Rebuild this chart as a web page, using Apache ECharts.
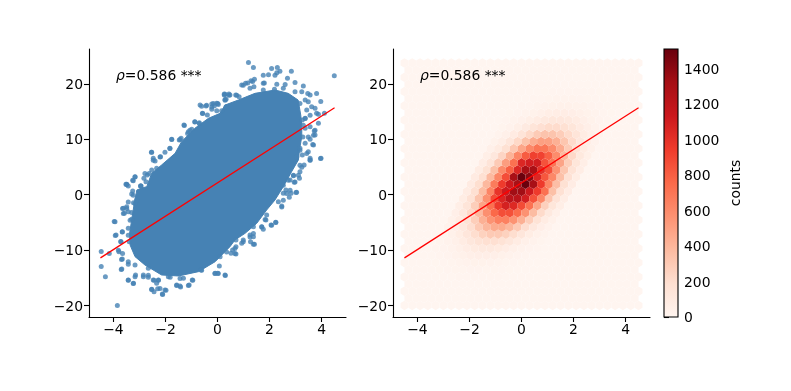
<!DOCTYPE html>
<html><head><meta charset="utf-8">
<style>html,body{margin:0;padding:0;background:#fff}#c{width:791px;height:391px}</style>
<script src="https://cdn.jsdelivr.net/npm/echarts@6/dist/echarts.min.js"></script>
</head><body><div id="c"></div>
<script>
const xTicks=[-4,-2,0,2,4];
const yTicks=[-20,-10,0,10,20];
const cbTicks=[0,200,400,600,800,1000,1200,1400];
const annotation='{r|ρ}=0.586 ***';
const cbLabel='counts';
const fitLine=[[-4.5,-11.4],[4.5,15.7]];
// solid core of the scatter cloud
const cloudOutline=[[-3.1,.86],[-2.9,1.2],[-2.72,1.46],[-2.53,3.87],[-2.15,5.37],[-1.63,7.48],[-1.38,9.59],[-.87,12],[-.35,13.8],[.1,14.7],[.29,16.2],[.8,17.1],[1.44,18.31],[2.21,18.91],[2.72,18.31],[3.1,17.1],[3.2,14.4],[3.24,12.59],[3.24,10.48],[3.15,8.07],[3.11,6.28],[2.85,4.17],[2.53,1.46],[2.21,-.95],[1.89,-2.76],[1.51,-5.16],[1.06,-6.97],[.67,-8.17],[.48,-9.38],[.29,-10.28],[-.09,-12.09],[-.73,-13.89],[-1.5,-14.67],[-2.15,-14.49],[-2.79,-12.69],[-3.17,-11.18],[-3.36,-9.08],[-3.38,-6.97],[-3.3,-4.56],[-3.2,-1.55]];
const scatterUpper=[[1.19,23.86],[1.38,22.96],[2.08,22.78],[2.3,22.96],[2.4,22.29],[2.28,22.05],[2.84,22.29],[1.76,21.57],[1.96,21.69],[2.21,21.57],[4.49,21.51],[2.69,21.03],[1.35,20.43],[1.16,20.19],[.99,19.77],[1.8,20.19],[2.28,19.95],[2.98,20.25],[2.6,19.89],[3.81,18.27],[3.47,18.27],[3.97,16.82],[.29,18.14],[.44,17.96],[.29,17.06],[.74,17.96],[-.42,16.16],[-.61,15.98],[-.16,16.46],[.03,16.28],[-.22,15.86],[-.57,14.65],[-.87,13.15],[-.7,12.85],[-1.275,12.49],[-1.06,11.64],[-1.15,11.04],[-1.76,9.96],[-1.44,9.96],[-2.53,7.67],[-1.83,8.33],[-2.21,6.83],[-2.47,6.23],[-2.79,3.82],[-2.63,3.82],[-3.17,3.22],[-3.26,2.62],[-3.49,1.9],[-2.94,1.6],[3.96,6.53],[3.66,9.06],[3.75,11.65],[3.56,14.35],[3.88,14.53],[3.37,13.75],[3.49,10.44],[3.17,8.03],[3.43,7.43],[3.56,6.23],[3.17,5.33],[2.92,3.52],[3.11,3.52],[2.72,2.62],[2.53,1.72],[3.28,10.44],[3.69,10.74],[3.3,12.55]];
const scatterLower=[[-3.49,1.83],[-2.95,1.59],[-3.26,.69],[-3.24,-.09],[-3.43,-1.29],[-3.17,-1.6],[-3.65,-2.5],[-3.49,-2.5],[-3.62,-3.4],[-3.3,-3.22],[-3.97,-4.84],[-3.36,-4.6],[-3.66,-6.71],[-3.93,-7.37],[-3.72,-8.45],[-3.43,-7.31],[-3.39,-8.51],[-4.47,-10.26],[-4.16,-10.62],[-3.81,-10.02],[-3.65,-10.62],[-3.69,-11.7],[-3.43,-12.55],[-4.47,-12.97],[-3.7,-13.51],[-4.31,-14.83],[-3.43,-15.43],[-3.24,-16.04],[-3.17,-14.83],[-2.85,-14.83],[-2.66,-14.53],[-3.85,-20.01],[-2.44,-15.43],[-2.275,-15.43],[-2.53,-17.12],[-2.44,-17.54],[-2.21,-16.94],[-1.98,-17.24],[-2.11,-18.02],[-1.57,-16.4],[-1.42,-16.64],[-1.12,-16.4],[-.95,-15.43],[-.1,-14.23],[.03,-14.23],[.3,-14.59],[-.61,-13.63],[-1.44,-15.13],[-1.89,-14.83],[1.38,-8.94],[1.25,-7.61],[.99,-8.51],[.67,-9.72],[.67,-10.62],[.35,-10.32],[.1,-11.22],[1.7,-5.81],[2.08,-5.51],[2.24,-5.02],[1.83,-4.48],[2.47,-2.2],[3.02,.39],[2.66,.21],[2.79,.81],[2.98,2.32],[2.53,-.99],[1.38,-7.01]];
const edgeUpperLeft=[[-.67,16.21],[-.44,16.03],[-.22,16.39],[-.03,16.51],[-.12,16.09],[-.58,14.71],[-.39,14.4],[-.22,15.43],[-.03,15.19],[.16,15.19],[.33,15.91],[.26,18.02],[.48,18.02],[.33,17.23],[-1.29,12.6],[-.87,13.2],[-.7,13.02],[-1.12,11.39],[-.99,11.82],[-1.76,10.01],[-1.47,9.89],[-1.4,10.19],[-1.83,8.38],[-2.02,7.66],[-2.54,7.66],[-2.47,6.58],[-2.19,6.88],[-2.4,6.1],[-2.34,4.77],[-2.53,4.47],[-2.7,3.57],[-2.83,2.97],[-3.17,3.27],[-3.24,2.54],[-3.52,1.88],[-3.43,1.58],[-2.96,1.58],[-2.75,2.36]];
const edgeUpperRight=[[1.76,20.12],[3.3,19.63],[.93,19.81],[1.08,20.12],[1.29,20.6],[1.42,20.84],[1.4,19.51],[1.25,19.21],[.44,18.19],[.26,18.19],[.29,17.22],[.7,18.01],[.83,17.71],[.01,16.5],[3.56,18.01],[3.49,16.8],[3.62,15.9],[3.75,15.6],[3.81,14.7],[4.11,14.7],[3.37,13.8],[3.88,12.89],[3.56,12.29],[3.37,11.99],[3.72,11.51],[3.75,10.78],[3.56,10],[3.37,9.28],[3.69,8.98],[3.17,8.38],[3.49,7.77],[3.26,7.17],[3.05,6.87],[3.56,6.57],[3.98,6.57],[1.76,18.91],[2.19,19.03],[2.53,19.21],[3.24,18.61],[2.98,18.61],[3.37,17.1],[3.17,16.5],[3.43,15.3],[3.26,13.5]];
const edgeLowerRight=[[3.56,6.28],[3.33,5.37],[3.24,4.95],[3.17,4.17],[2.92,3.45],[3.15,2.96],[2.95,2.24],[2.79,2.66],[3.04,.44],[2.63,.86],[2.83,.25],[2.76,-.47],[2.53,.25],[2.47,-2.03],[2.34,-1.25],[2.24,-4.98],[2.06,-5.46],[1.86,-4.56],[1.7,-5.77],[1.76,-6.25],[1.89,-3.66],[1.38,-5.77],[1.25,-7.27],[1.38,-7.57],[1.27,-8.48],[1.42,-8.96],[.99,-8.17],[.93,-8.78],[.71,-8.17],[.71,-9.38],[.58,-9.98],[.71,-10.7],[.52,-10.58]];
const edgeLowerLeft=[[-3.3,.14],[-3.11,-.95],[-3.23,-1.43],[-3.49,-2.15],[-3.62,-2.45],[-3.43,-3.06],[-3.58,-3.36],[-3.3,-4.44],[-3.43,-6.07],[-3.66,-6.67],[-3.94,-4.86],[-3.9,-7.27],[-3.71,-8.47],[-3.79,-10.28],[-3.66,-11.61],[-3.68,-13.41],[-3.43,-12.09],[-3.43,-15.4],[-3.15,-14.49],[-3.23,-16],[-2.85,-14.49],[-2.66,-14.92],[-2.47,-15.4],[-2.27,-15.4],[-2.34,-16],[-2.53,-17.08],[-2.3,-16.96],[-2.02,-17.2],[-2.12,-17.93],[-1.57,-16.3],[-1.44,-16.48],[-1.09,-16.3],[-.97,-15.4],[-.09,-14.2],[.01,-14.2],[.29,-14.5],[.07,-12.87],[-.63,-13.59],[-1.31,-15.1],[-1.82,-14.92],[-2.66,-13.29],[-3.17,-12.69]];
// hexbin counts, by lattice row: row number, x of first non-empty cell, counts
const hexRowIndex=[4,5,6,7,8,9,10,11,12,13,14,15,16,17,18,19,20,21,22,23,24,25,26,27,28,29,30];
const hexRowStart=[-3.3,-3.45,-3.6,-3.45,-3.3,-3.15,-3,-2.85,-2.7,-2.55,-2.4,-2.25,-2.1,-1.95,-1.8,-1.65,-1.5,-1.35,-1.2,-1.05,-.9,-.75,-.6,-.45,-.3,-.15,.3];
const hexRowCounts=[
[1,2,3,5,6,7,7,6,5,3,2,1],
[2,4,6,10,13,15,15,13,10,6,4,2],
[2,4,8,13,20,27,30,30,27,20,13,8,4,2],
[3,8,15,26,39,51,59,59,51,39,26,15,8,3],
[6,14,27,47,72,94,108,108,94,72,47,27,14,6],
[11,24,47,81,123,162,186,186,162,123,81,47,24,11],
[17,39,76,131,199,261,300,300,261,199,131,76,39,17],
[26,59,115,198,301,395,453,453,395,301,198,115,59,26],
[37,83,164,283,428,563,646,646,563,428,283,164,83,37],
[50,113,224,387,580,759,866,861,747,567,374,215,108,47],
[63,142,281,485,728,952,1086,1040,880,711,469,270,136,60],
[74,168,332,572,880,1060,1210,1210,1100,850,620,319,160,70],
[82,186,368,634,980,1120,1330,1330,1120,950,720,353,177,78],
[90,195,390,668,950,1120,1300,1500,1300,950,627,360,180,78],
[88,190,381,620,870,1300,1500,1400,1050,830,612,351,176,76],
[81,174,349,597,800,1050,1300,1300,1000,850,561,322,161,70],
[69,150,300,514,720,1050,1100,1100,850,700,483,277,139,60],
[56,122,243,416,624,813,923,914,790,596,391,224,112,49],
[42,92,184,315,472,615,699,692,598,451,296,170,85,37],
[30,66,132,226,338,441,500,496,428,323,212,122,61,26],
[20,44,88,151,226,295,335,332,286,216,142,81,41,18],
[13,28,55,95,142,185,210,208,180,136,89,51,26,11],
[8,16,32,56,83,109,123,122,106,80,52,30,15,7],
[4,9,18,31,47,61,69,68,59,45,29,17,8,4],
[2,5,9,16,24,31,36,35,31,23,15,9,4,2],
[1,2,5,8,12,16,18,18,15,11,8,4,2,1],
[1,2,4,5,7,8,8,7,5,4,2,1]];
const reds=['#fff5f0','#fee0d2','#fcbba1','#fc9272','#fb6a4a','#ef3b2c','#cb181d','#a50f15','#67000d'];
const cMax=1510, hexDx=.3, hexDy=2.576, hexX0=-4.5, hexY0=-20, hexRows=35;
const font='"DejaVu Sans"', fs=13.9;

function hex2(c){return [1,3,5].map(i=>parseInt(c.substr(i,2),16));}
function redsAt(v){const t=Math.min(1,Math.max(0,v/cMax))*(reds.length-1);const i=Math.min(reds.length-2,Math.floor(t));const a=hex2(reds[i]),b=hex2(reds[i+1]),f=t-i;
  return 'rgb('+a.map((q,k)=>Math.round(q+(b[k]-q)*f)).join(',')+')';}
const hexData=[];
for(let r=0;r<hexRows;r++){const odd=r%2===1,n=odd?30:31,y=hexY0+r*hexDy/2;
  const k=hexRowIndex.indexOf(r);
  for(let i=0;i<n;i++){const x=hexX0+(odd?hexDx/2:0)+i*hexDx;let c=0;
    if(k>=0){const j=Math.round((x-hexRowStart[k])/hexDx);if(j>=0&&j<hexRowCounts[k].length)c=hexRowCounts[k][j];}
    hexData.push([x,y,c]);}}
const minus=v=>String(v).replace('-','\u2212');
const yLabelRich={t:{fontFamily:font,fontSize:fs,color:'#000',padding:[3,0,0,0]}};
function xAx(i){return{type:'value',gridIndex:i,min:-4.94,max:4.94,splitLine:{show:false},
  axisLine:{onZero:false,lineStyle:{color:'#000',width:1.1}},
  axisTick:{length:5,lineStyle:{color:'#000',width:1.1},customValues:xTicks},
  axisLabel:{color:'#000',fontFamily:font,fontSize:fs,margin:6,customValues:xTicks,formatter:minus}};}
function yAx(i){return{type:'value',gridIndex:i,min:-22.08,max:26.32,splitLine:{show:false},
  axisLine:{onZero:false,lineStyle:{color:'#000',width:1.1}},
  axisTick:{length:5,lineStyle:{color:'#000',width:1.1},customValues:yTicks},
  axisLabel:{color:'#000',fontFamily:font,fontSize:fs,margin:6,customValues:yTicks,rich:yLabelRich,formatter:v=>'{t|'+minus(v)+'}'}};}
const txt={fontFamily:font,fontSize:fs,color:'#000',fontWeight:'normal',rich:{r:{fontFamily:font,fontSize:fs,fontStyle:'italic',color:'#000'}}};
const lineS=(x,y)=>({type:'line',xAxisIndex:x,yAxisIndex:y,data:fitLine,symbol:'none',z:10,silent:true,lineStyle:{color:'#ff0000',width:1.3}});
const chart=echarts.init(document.getElementById('c'),null,{renderer:'canvas'});
chart.setOption({animation:false,backgroundColor:'#fff',
 title:[{text:annotation,left:116,top:69,padding:0,textStyle:txt},{text:annotation,left:420,top:69,padding:0,textStyle:txt}],
 grid:[{left:89,top:49,width:257,height:268},{left:393,top:49,width:257,height:268},{left:664,top:49,width:14,height:268}],
 xAxis:[xAx(0),xAx(1),{type:'value',gridIndex:2,min:0,max:1,show:false}],
 yAxis:[yAx(0),yAx(1),{type:'value',gridIndex:2,position:'right',min:0,max:cMax,splitLine:{show:false},
   axisLine:{show:false},axisTick:{show:true,length:5,lineStyle:{color:'#000',width:1.1},customValues:cbTicks},
   axisLabel:{color:'#000',fontFamily:font,fontSize:fs,margin:6,customValues:cbTicks,rich:yLabelRich,formatter:v=>'{t|'+v+'}'},
   name:cbLabel,nameLocation:'middle',nameRotate:90,nameGap:51,nameTextStyle:{fontFamily:font,fontSize:fs,color:'#000'}}],
 series:[
  {type:'custom',xAxisIndex:0,yAxisIndex:0,data:[[0,0]],silent:true,z:2,renderItem:(p,api)=>({type:'polygon',
    shape:{points:cloudOutline.map(q=>api.coord(q))},style:{fill:'#4682b4',stroke:'#4682b4',lineWidth:1,lineJoin:'round'}})},
  {type:'scatter',xAxisIndex:0,yAxisIndex:0,data:scatterUpper.concat(scatterLower,edgeUpperLeft,edgeUpperRight,edgeLowerRight,edgeLowerLeft),symbolSize:5,silent:true,z:3,itemStyle:{color:'#4682b4',opacity:.8}},
  lineS(0,0),
  {type:'custom',xAxisIndex:1,yAxisIndex:1,data:hexData,silent:true,z:2,encode:{x:0,y:1},renderItem:(p,api)=>{
    const x=api.value(0),y=api.value(1),c=api.value(2),a=hexDx/2,b=hexDy/6;
    const pts=[[x+a,y-b],[x+a,y+b],[x,y+2*b],[x-a,y+b],[x-a,y-b],[x,y-2*b]].map(q=>api.coord(q));
    return{type:'polygon',shape:{points:pts},style:{fill:redsAt(c)}};}},
  lineS(1,1),
  {type:'custom',xAxisIndex:2,yAxisIndex:2,data:[[0,cMax]],silent:true,renderItem:(p,api)=>{
    const a=api.coord([0,api.value(1)]),b=api.coord([1,0]);
    return{type:'rect',shape:{x:a[0],y:a[1],width:b[0]-a[0],height:b[1]-a[1]},
      style:{stroke:'#000',lineWidth:1.1,fill:new echarts.graphic.LinearGradient(0,1,0,0,reds.map((c,i)=>({offset:i/(reds.length-1),color:c})))}};}}
 ]});
</script></body></html>
